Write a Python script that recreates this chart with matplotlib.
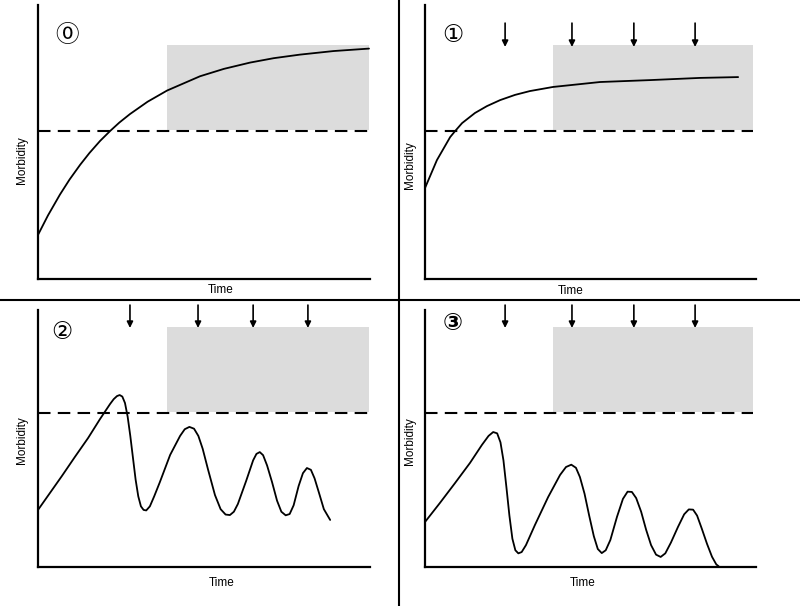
import matplotlib.pyplot as plt
from matplotlib.lines import Line2D
from matplotlib.patches import Rectangle

plt.rcParams['font.family'] = ['Liberation Sans', 'DejaVu Sans', 'Noto Sans CJK JP']

# panel 0: untreated, saturating morbidity
t0 = [0, 3, 6.6, 9.5, 12.7, 15.5, 18.7, 21.7, 24.5, 27.7, 33, 38.9, 48.8, 56, 63.9, 71, 78.9, 89, 99.7]
m0 = [16.1, 23.2, 30.8, 36.3, 41.7, 46.0, 50.4, 54.0, 57.1, 60.2, 64.7, 68.8, 74.0, 76.7, 79.0, 80.6, 81.9, 83.2, 84.1]

# panel 1
t1 = [0, 3.6, 7.6, 9.1, 11.2, 15.1, 18.7, 22.7, 27.2, 31.7, 38.7, 52.9, 68.0, 83.1, 94.6]
m1 = [33.2, 43.4, 51.8, 54.0, 56.9, 60.6, 63.1, 65.3, 67.2, 68.6, 70.1, 71.9, 72.6, 73.4, 73.7]

# panel 2
t2 = [0, 3.6, 7.2, 11.1, 15.1, 18.7, 21.7, 22.8, 23.8, 24.6, 25.4, 26.2, 27.0, 27.8, 28.6, 29.4,
      30.2, 31.0, 31.8, 32.6, 33.7, 35.0, 36.7, 39.8, 42.8, 44.2, 45.6, 47.0, 48.3, 49.6, 51.2,
      53.3, 55.0, 56.5, 57.8, 59.0, 60.2, 62.7, 64.8, 65.8, 66.8, 67.8, 69.0, 70.5, 72.0, 73.3,
      74.6, 75.8, 77.0, 78.5, 79.8, 81.0, 82.2, 83.3, 84.6, 86.1, 88.0]
m2 = [22.2, 28.8, 35.4, 42.8, 50.2, 57.6, 63.4, 65.3, 66.5, 66.9, 66.3, 63.8, 58.5, 51.0, 42.5, 34.0,
      27.5, 23.6, 22.2, 22.0, 23.6, 27.5, 33.0, 43.6, 51.0, 53.6, 54.5, 53.8, 51.0, 46.0, 38.0,
      28.0, 22.5, 20.4, 20.2, 21.5, 24.5, 33.5, 41.5, 44.0, 44.7, 43.5, 39.5, 33.0, 25.8, 21.5,
      20.1, 20.6, 24.0, 31.5, 36.5, 38.5, 37.8, 34.5, 29.0, 22.5, 18.3]

# panel 3
t3 = [0, 4.5, 9.1, 13.6, 17.2, 19.2, 20.6, 21.8, 22.8, 23.7, 24.6, 25.5, 26.4, 27.3, 28.2, 29.2,
      30.5, 33.2, 37.2, 40.8, 42.6, 44.2, 45.6, 46.8, 48.2, 49.6, 51.0, 52.2, 53.4, 54.6, 56.0,
      58.0, 59.8, 61.2, 62.5, 63.8, 65.3, 66.8, 68.3, 69.8, 71.2, 72.6, 74.3, 76.4, 78.3, 79.7,
      81.0, 82.2, 83.6, 85.2, 86.7, 88.0, 88.7]
m3 = [17.5, 24.9, 32.7, 40.5, 47.5, 51.0, 52.5, 52.0, 48.5, 41.5, 31.0, 20.0, 11.0, 6.5, 5.3, 5.8,
      8.5, 16.3, 27.2, 35.8, 38.9, 39.8, 38.6, 35.0, 28.5, 20.0, 12.0, 7.0, 5.4, 6.5, 10.5,
      19.5, 26.5, 29.3, 29.2, 26.8, 21.5, 14.5, 8.5, 4.8, 3.9, 5.3, 9.5, 15.5, 20.5, 22.4,
      22.3, 20.0, 15.0, 9.0, 4.0, 1.0, 0.3]

labels = ['\u24ea', '\u2460', '\u2461', '\u2462']
arrows_top = [24.2, 44.4, 63.1, 81.6]      # dosing times, panels 1 and 3
arrows_bottom2 = [27.7, 48.2, 64.8, 81.3]  # dosing times, panel 2

fig = plt.figure(figsize=(8, 6.06), dpi=100)

boxes = [
    [0.0475, 0.5396, 0.415, 0.4521],
    [0.53125, 0.5396, 0.41375, 0.4521],
    [0.0475, 0.0644, 0.415, 0.4241],
    [0.53125, 0.0644, 0.41375, 0.4241],
]
curves = [(t0, m0), (t1, m1), (t2, m2), (t3, m3)]
# shaded zone / threshold per panel: (x0, x1, y0, y1, thr)
zones = [(38.9, 99.7, 54.4, 85.4, 54.0),
         (38.7, 99.1, 54.4, 85.4, 54.0),
         (38.9, 99.7, 60.3, 93.4, 59.9),
         (38.7, 99.1, 60.3, 93.4, 59.9)]
arrow_sets = [None, (arrows_top, 93.4, 84.7), (arrows_bottom2, 101.9, 93.0), (arrows_top, 101.9, 93.0)]
lab_pos = [(0.087, 0.89), (0.085, 0.89), (0.072, 0.914), (0.082, 0.949)]
morb_pos = [(-0.048, 0.434), (-0.045, 0.416), (-0.048, 0.494), (-0.045, 0.49)]
time_pos = [(0.551, -0.04), (0.441, -0.045), (0.554, -0.062), (0.477, -0.062)]

for i in range(4):
    ax = fig.add_axes(boxes[i])
    ax.set_xlim(0, 100)
    ax.set_ylim(0, 100)
    for s in ['top', 'right']:
        ax.spines[s].set_visible(False)
    for s in ['left', 'bottom']:
        ax.spines[s].set_linewidth(1.6)
    ax.set_xticks([])
    ax.set_yticks([])

    x0, x1, y0, y1, thr = zones[i]
    ax.add_patch(Rectangle((x0, y0), x1 - x0, y1 - y0, facecolor='#dcdcdc', edgecolor='none', zorder=1))
    ax.plot([0, x1], [thr, thr], color='black', lw=1.5, ls=(0, (6, 3.5)), zorder=2)
    ax.plot(curves[i][0], curves[i][1], color='black', lw=1.3, zorder=3,
            solid_joinstyle='round', solid_capstyle='round')

    if arrow_sets[i] is not None:
        xs, ytop, ybot = arrow_sets[i]
        for x in xs:
            ax.annotate('', xy=(x, ybot), xytext=(x, ytop),
                        arrowprops=dict(arrowstyle='-|>', color='black', lw=1.2,
                                        mutation_scale=9, shrinkA=0, shrinkB=0),
                        annotation_clip=False)

    ax.text(lab_pos[i][0], lab_pos[i][1], labels[i], transform=ax.transAxes,
            ha='center', va='center', fontsize=17,
            fontweight='bold' if i == 3 else 'normal',
            family=['DejaVu Sans', 'Noto Sans CJK JP'])
    ax.text(morb_pos[i][0], morb_pos[i][1], 'Morbidity', transform=ax.transAxes,
            rotation=90, ha='center', va='center', fontsize=8.5)
    ax.text(time_pos[i][0], time_pos[i][1], 'Time', transform=ax.transAxes,
            ha='center', va='center', fontsize=8.5)

# quadrant dividers
fig.add_artist(Line2D([0.49875, 0.49875], [0, 1], color='black', lw=1.5, transform=fig.transFigure))
fig.add_artist(Line2D([0, 1], [0.505, 0.505], color='black', lw=1.5, transform=fig.transFigure))

fig.savefig('out.png', dpi=100)
